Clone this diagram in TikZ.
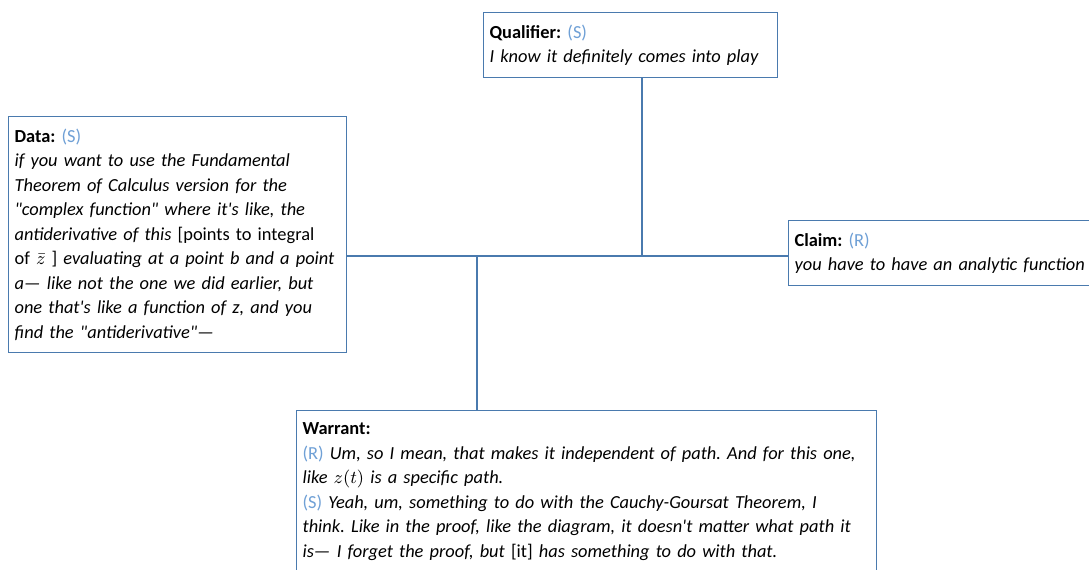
\documentclass[tikz,border=0pt]{standalone}
\usepackage{fontspec}
\setmainfont{Carlito}[Ligatures=TeXOff]
\usetikzlibrary{positioning}
\definecolor{boxblue}{RGB}{74,122,174}
\definecolor{tagblue}{RGB}{111,160,214}
\newcommand{\tagS}{\textcolor{tagblue}{(S)}}
\newcommand{\tagR}{\textcolor{tagblue}{(R)}}
\frenchspacing

\begin{document}
\begin{tikzpicture}[x=0.5pt,y=-0.5pt,
  tnode/.style={rectangle,draw=boxblue,line width=0.6pt,fill=white,
               align=left,anchor=north west,inner xsep=3pt,inner ysep=6pt,
               font=\fontsize{9.2}{12.25}\selectfont},
  link/.style={boxblue,line width=0.6pt}]
\useasboundingbox (0,0) rectangle (1089,569);
\node[tnode,text width=141pt] (qual) at (483,12) {\textbf{Qualifier:} \tagS\\
  \textit{I know it definitely comes into play}};
\node[tnode,text width=163pt] (data) at (8,116) {\textbf{Data:} \tagS\\
  \textit{if you want to use the Fundamental}\\
  \textit{Theorem of Calculus version for the}\\
  \textit{"complex function" where it's like, the}\\
  \textit{antiderivative of this} [points to integral\\
  of $\bar{z}$ ] \textit{evaluating at a point b and a point}\\
  \textit{a— like not the one we did earlier, but}\\
  \textit{one that's like a function of z, and you}\\
  \textit{find the "antiderivative"—}};
\node[tnode,text width=160pt] (claim) at (788,220) {\textbf{Claim:} \tagR\\
  \textit{you have to have an analytic function}};
\node[tnode,text width=284pt] (warrant) at (296,410) {\textbf{Warrant:}\\
  \tagR{} \textit{Um, so I mean, that makes it independent of path. And for this one,}\\
  \textit{like $z(t)$ is a specific path.}\\
  \tagS{} \textit{Yeah, um, something to do with the Cauchy-Goursat Theorem, I}\\
  \textit{think. Like in the proof, like the diagram, it doesn't matter what path it}\\
  \textit{is— I forget the proof, but} [it] \textit{has something to do with that.}};
\coordinate (hub) at (477,256);
\coordinate (qfoot) at (642,256);
\draw[link] (data.east |- hub) -- (claim.west |- hub);
\draw[link] (qual.south -| qfoot) -- (qfoot);
\draw[link] (hub) -- (warrant.north -| hub);
\end{tikzpicture}
\end{document}
